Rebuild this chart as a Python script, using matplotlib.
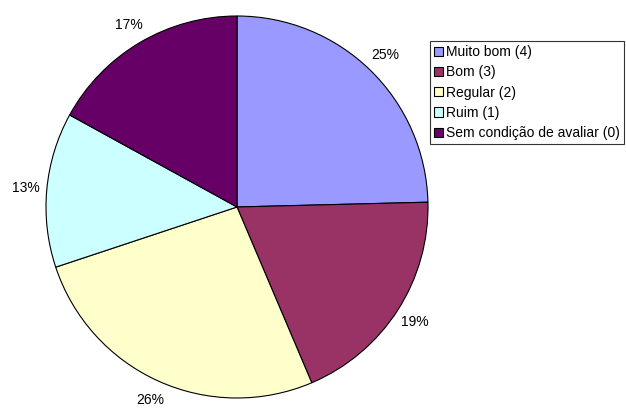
import matplotlib
matplotlib.use("Agg")
import matplotlib.pyplot as plt

plt.rcParams['font.family'] = ['Liberation Sans', 'DejaVu Sans']

# data (shares in %, labels show them rounded)
categories = ["Muito bom (4)", "Bom (3)", "Regular (2)", "Ruim (1)",
              "Sem condição de avaliar (0)"]
shares = [24.6, 19.0, 26.3, 13.1, 17.0]
colors = ["#9999FF", "#993366", "#FFFFCC", "#CCFFFF", "#660066"]

fig = plt.figure(figsize=(6.26, 4.08), dpi=100)
ax = fig.add_axes([46 / 626, 10 / 408, 382 / 626, 382 / 408])

wedges, texts, autotexts = ax.pie(
    shares, colors=colors, startangle=90, counterclock=False,
    autopct="%1.0f%%", pctdistance=1.11,
    wedgeprops=dict(edgecolor="black", linewidth=0.8),
    textprops=dict(fontsize=10, color="black"))

ax.set_xlim(-1, 1)
ax.set_ylim(-1, 1)
ax.set_aspect("equal")
ax.axis("off")

leg = fig.legend(wedges, categories, loc="upper left",
                 bbox_to_anchor=(430 / 626, 1 - 41 / 408),
                 fontsize=10, frameon=True, fancybox=False,
                 edgecolor="black", handlelength=0.65, handleheight=0.65,
                 handletextpad=0.2, labelspacing=0.45, borderpad=0.3,
                 borderaxespad=0)
leg.get_frame().set_linewidth(0.8)

fig.savefig("out.png", dpi=100)
